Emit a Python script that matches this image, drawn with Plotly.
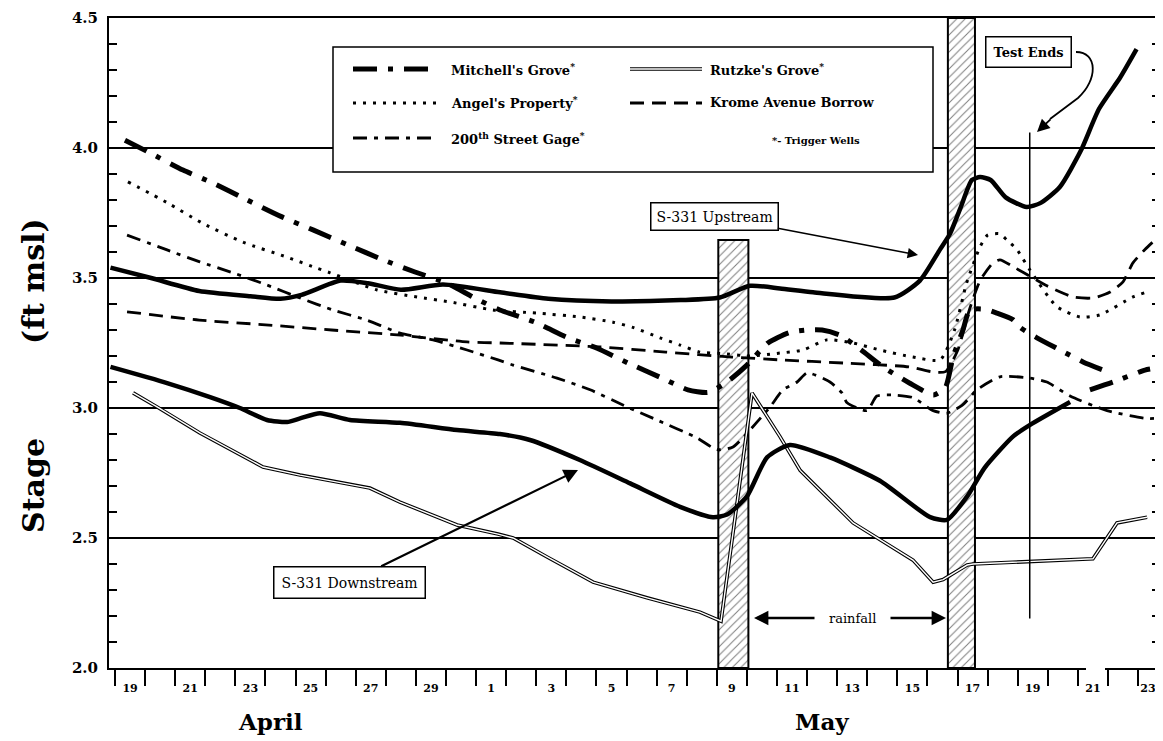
import plotly.graph_objects as go

# ---------------- data (day numbers: Apr 19 = 19 ... Apr 30 = 30, May 1 = 31 ... May 23 = 53) -------------
upstream_day = [18.85, 20.2, 21.8, 23.5, 24.5, 25.2, 26.5, 27.4, 28.5, 29.9, 31.8, 33.4, 35.5, 37.8, 39.1,
                40.1, 41.1, 42.2, 44.9, 45.75, 46.42, 46.75, 47.1, 47.48, 47.75, 48.1, 48.6, 49.3, 49.75,
                50.4, 51.1, 51.7, 52.4, 52.95]
upstream_stage = [3.54, 3.50, 3.45, 3.43, 3.42, 3.435, 3.49, 3.48, 3.455, 3.475, 3.445, 3.42, 3.41, 3.415,
                  3.425, 3.47, 3.46, 3.445, 3.425, 3.49, 3.61, 3.67, 3.77, 3.877, 3.888, 3.877, 3.81, 3.773,
                  3.788, 3.85, 3.99, 4.15, 4.27, 4.38]

downstream_day = [18.85, 20.73, 22.16, 23.15, 24.05, 24.72, 25.15, 25.81, 26.81, 28.47, 30.37, 31.79, 32.79,
                  34.45, 36.12, 37.78, 38.87, 39.34, 40.0, 40.67, 41.43, 42.76, 44.42, 46.09, 46.65, 47.32,
                  47.9, 48.84, 49.41, 50.74]
downstream_stage = [3.158, 3.096, 3.042, 3.0, 2.954, 2.946, 2.96, 2.98, 2.954, 2.943, 2.915, 2.90, 2.877,
                    2.80, 2.71, 2.62, 2.58, 2.59, 2.66, 2.81, 2.858, 2.81, 2.72, 2.58, 2.57, 2.66, 2.77,
                    2.89, 2.935, 3.023]

rutzke_day = [19.6, 20.4, 21.82, 23.92, 25.15, 27.47, 28.47, 30.37, 31.73, 32.23, 33.36, 34.89, 36.68,
              38.44, 39.14, 40.17, 41.1, 41.77, 43.53, 45.52, 46.19, 46.52, 47.32, 47.52, 51.5, 52.3, 53.3]
rutzke_stage = [3.058, 3.004, 2.904, 2.773, 2.742, 2.692, 2.638, 2.55, 2.515, 2.50, 2.427, 2.33, 2.27,
                2.215, 2.18, 3.058, 2.89, 2.76, 2.558, 2.415, 2.33, 2.34, 2.396, 2.40, 2.42, 2.558, 2.58]

mitchell_day = [19.33, 20.1, 21.26, 22.26, 23.39, 24.55, 25.58, 26.74, 27.91, 28.97, 30.03, 30.96, 31.79,
                32.96, 34.06, 35.02, 36.05, 37.18, 38.04, 38.71, 39.34, 40.0, 40.7, 41.4, 42.0, 42.5, 43.1,
                43.8, 44.5, 45.4, 46.2, 46.6, 46.85, 47.18, 47.41, 47.9, 48.31, 48.84, 49.08, 49.64, 50.41,
                51.17, 51.83, None, 51.4, 52.17, 53.23, 53.4]
mitchell_stage = [4.03, 3.985, 3.915, 3.865, 3.80, 3.735, 3.685, 3.627, 3.57, 3.523, 3.48, 3.423, 3.377,
                  3.33, 3.27, 3.23, 3.173, 3.115, 3.07, 3.06, 3.10, 3.165, 3.25, 3.29, 3.30, 3.30, 3.28,
                  3.223, 3.16, 3.096, 3.05, 3.08, 3.196, 3.30, 3.377, 3.38, 3.365, 3.34, 3.31, 3.27, 3.223,
                  3.177, 3.146, None, 3.07, 3.10, 3.146, 3.15]

angel_day = [19.43, 20.73, 21.92, 23.25, 24.72, 25.71, 26.15, 27.71, 29.04, 30.13, 31.56, 33.02, 34.45,
             35.55, 36.21, 37.11, 37.78, 38.44, 39.11, 40.1, 41.0, 41.86, 42.66, 43.53, 44.42, 45.52,
             46.42, 46.9, 47.3, 47.75, 48.0, 48.4, 48.64, 48.97, 49.41, 50.3, 51.07, 51.73, 52.83, 53.4]
angel_stage = [3.87, 3.79, 3.71, 3.638, 3.58, 3.538, 3.52, 3.454, 3.427, 3.408, 3.377, 3.365, 3.35, 3.33,
               3.31, 3.27, 3.242, 3.215, 3.21, 3.20, 3.21, 3.223, 3.262, 3.25, 3.223, 3.196, 3.185, 3.30,
               3.48, 3.62, 3.665, 3.67, 3.646, 3.61, 3.53, 3.39, 3.35, 3.358, 3.427, 3.45]

gage_day = [19.4, 20.73, 21.82, 22.92, 24.05, 25.15, 26.24, 27.37, 28.47, 29.57, 30.70, 31.73, 32.23,
            33.69, 34.79, 36.02, 37.01, 38.34, 39.0, 39.54, 40.1, 40.77, 41.2, 41.67, 42.0, 42.76, 43.16,
            43.33, 43.99, 44.32, 44.86, 45.52, 46.19, 46.65, 47.15, 47.65, 48.41, 49.41, 49.97, 50.74,
            51.97, 53.23, 53.6]
gage_stage = [3.665, 3.608, 3.562, 3.52, 3.473, 3.423, 3.377, 3.338, 3.288, 3.262, 3.223, 3.185, 3.165,
              3.115, 3.07, 3.004, 2.954, 2.885, 2.84, 2.85, 2.915, 3.004, 3.07, 3.10, 3.135, 3.10, 3.058,
              3.02, 2.99, 3.046, 3.05, 3.04, 2.99, 2.98, 3.01, 3.07, 3.12, 3.115, 3.10, 3.046, 2.99,
              2.96, 2.96]

krome_day = [19.4, 21.8, 24.0, 26.2, 28.5, 30.7, 31.8, 35.1, 37.3, 39.5, 41.1, 43.2, 45.4, 46.2, 46.6,
             47.0, 47.4, 47.75, 48.18, 48.41, 48.9, 49.51, 49.97, 50.84, 51.5, 52.07, 52.5, 52.83, 53.23,
             53.6]
krome_stage = [3.37, 3.338, 3.32, 3.30, 3.28, 3.254, 3.25, 3.235, 3.215, 3.196, 3.185, 3.173, 3.158,
               3.138, 3.14, 3.22, 3.38, 3.49, 3.558, 3.57, 3.54, 3.50, 3.47, 3.427, 3.423, 3.446, 3.485,
               3.558, 3.61, 3.65]

rain_start = [39.05, 46.68]
rain_end = [40.05, 47.58]
rain_top = [3.646, 4.5]
test_end_day = 49.4
test_end_range = [2.19, 4.06]

# tick-label positions (day centres; the last one sits a little left, as printed)
x_label_pos = [19.5, 21.5, 23.5, 25.5, 27.5, 29.5, 31.5, 33.5, 35.5, 37.5, 39.5, 41.5, 43.5, 45.5,
               47.5, 49.5, 51.5, 53.33]
x_tick_labels = ["19", "21", "23", "25", "27", "29", "1", "3", "5", "7", "9", "11", "13", "15", "17",
                 "19", "21", "23"]
month_labels = ["April", "May"]

series_names = ["Mitchell's Grove", "Angel's Property", "200th Street Gage",
                "Rutzke's Grove", "Krome Avenue Borrow", "S-331 Upstream", "S-331 Downstream"]

# ---------------- geometry helpers (layout only) ----------------
# the page body has an 8 px margin, so the figure is made 8 px smaller and all
# screen positions below are given in the 1163x741 screenshot frame.
OFF = 8
W, H = 1163 - OFF, 741 - OFF
PLOT_L, PLOT_R, PLOT_T, PLOT_B = 109, 1160, 18, 668          # screenshot pixels
ML, MT = PLOT_L - OFF, PLOT_T - OFF
MR = W - (PLOT_R - OFF)
MB = H - (PLOT_B - OFF)
PX_PER_DAY = 30.09
X0 = 19 - (115 - PLOT_L) / PX_PER_DAY
X1 = X0 + (PLOT_R - PLOT_L) / PX_PER_DAY
Y0, Y1 = 2.0, 4.5
PLOT_W = PLOT_R - PLOT_L
PLOT_H = PLOT_B - PLOT_T


def px2x(px):
    return X0 + (px - PLOT_L) / PX_PER_DAY


def py2y(py):
    return Y1 - (py - PLOT_T) * (Y1 - Y0) / PLOT_H


def px2p(px):
    return (px - PLOT_L) / PLOT_W


def py2p(py):
    return (PLOT_B - py) / PLOT_H


SERIF = "DejaVu Serif"
MITCH_DASH = "24px,11px,5px,11px"
ANGEL_DASH = "3px,7px"
GAGE_DASH = "14px,7px,4px,7px"
KROME_DASH = "14px,8px"

fig = go.Figure()

# rainfall bars (hatched)
fig.add_trace(go.Bar(
    x=[(s + e) / 2 for s, e in zip(rain_start, rain_end)],
    width=[e - s for s, e in zip(rain_start, rain_end)],
    y=[t - Y0 for t in rain_top], base=Y0,
    marker=dict(color="white", line=dict(color="black", width=2),
                pattern=dict(shape="/", fgcolor="black", bgcolor="white", size=6, solidity=0.17)),
    showlegend=False, hoverinfo="skip", name="rainfall"))

fig.add_trace(go.Scatter(x=krome_day, y=krome_stage, mode="lines", name=series_names[4],
                         line=dict(color="black", width=2.8, dash=KROME_DASH, shape="spline", smoothing=0.6)))
fig.add_trace(go.Scatter(x=gage_day, y=gage_stage, mode="lines", name=series_names[2],
                         line=dict(color="black", width=2.8, dash=GAGE_DASH, shape="spline", smoothing=0.6)))
fig.add_trace(go.Scatter(x=angel_day, y=angel_stage, mode="lines", name=series_names[1],
                         line=dict(color="black", width=3, dash=ANGEL_DASH, shape="spline", smoothing=0.6)))
fig.add_trace(go.Scatter(x=mitchell_day, y=mitchell_stage, mode="lines", name=series_names[0],
                         line=dict(color="black", width=5, dash=MITCH_DASH, shape="spline", smoothing=0.6)))
fig.add_trace(go.Scatter(x=rutzke_day, y=rutzke_stage, mode="lines", name=series_names[3],
                         line=dict(color="black", width=3.6)))
fig.add_trace(go.Scatter(x=rutzke_day, y=rutzke_stage, mode="lines", showlegend=False,
                         line=dict(color="white", width=1.4), hoverinfo="skip"))
fig.add_trace(go.Scatter(x=upstream_day, y=upstream_stage, mode="lines", name=series_names[5],
                         line=dict(color="black", width=4.5, shape="spline", smoothing=0.6)))
fig.add_trace(go.Scatter(x=downstream_day, y=downstream_stage, mode="lines", name=series_names[6],
                         line=dict(color="black", width=4.5, shape="spline", smoothing=0.6)))

shapes = []
annotations = []

# test-ends vertical line
shapes.append(dict(type="line", xref="x", yref="y", x0=test_end_day, x1=test_end_day,
                   y0=test_end_range[0], y1=test_end_range[1], line=dict(color="black", width=1.5)))

# small break in the bottom axis line (as in the original drawing)
shapes.append(dict(type="rect", xref="paper", yref="paper", x0=px2p(1086), x1=px2p(1105),
                   y0=py2p(672), y1=py2p(665), line=dict(width=0), fillcolor="white", layer="above"))

# ---------------- legend (drawn box) ----------------
shapes.append(dict(type="rect", xref="paper", yref="paper", x0=px2p(333), x1=px2p(933),
                   y0=py2p(172), y1=py2p(47), line=dict(color="black", width=1.5),
                   fillcolor="white", layer="above"))
leg_rows = [69, 103, 138]
leg_items = [
    (0, 0, "Mitchell's Grove<sup>*</sup>", dict(color="black", width=5, dash=MITCH_DASH)),
    (0, 1, "Angel's Property<sup>*</sup>", dict(color="black", width=3, dash=ANGEL_DASH)),
    (0, 2, "200<sup>th</sup> Street Gage<sup>*</sup>", dict(color="black", width=3, dash=GAGE_DASH)),
    (1, 0, "Rutzke's Grove<sup>*</sup>", None),
    (1, 1, "Krome Avenue Borrow", dict(color="black", width=3, dash=KROME_DASH)),
]
col_sample = [(353, 436), (630, 702)]
col_text = [449, 708]
for col, row, label, ln in leg_items:
    yy = py2p(leg_rows[row])
    xa, xb = col_sample[col]
    if ln is None:
        shapes.append(dict(type="line", xref="paper", yref="paper", x0=px2p(xa), x1=px2p(xb), y0=yy, y1=yy,
                           line=dict(color="black", width=3.6), layer="above"))
        shapes.append(dict(type="line", xref="paper", yref="paper", x0=px2p(xa), x1=px2p(xb), y0=yy, y1=yy,
                           line=dict(color="white", width=1.4), layer="above"))
    else:
        shapes.append(dict(type="line", xref="paper", yref="paper", x0=px2p(xa), x1=px2p(xb), y0=yy, y1=yy,
                           line=ln, layer="above"))
    annotations.append(dict(xref="paper", yref="paper", x=px2p(col_text[col]), y=yy, xanchor="left",
                            yanchor="middle", showarrow=False, text=label,
                            font=dict(family=SERIF, size=13, color="black", weight="bold")))
annotations.append(dict(xref="paper", yref="paper", x=px2p(770), y=py2p(140), xanchor="left",
                        yanchor="middle", showarrow=False, text="<b>*</b>- Trigger Wells",
                        font=dict(family=SERIF, size=10, color="black", weight="bold")))

# ---------------- text annotations ----------------
annotations.append(dict(xref="paper", yref="paper", x=px2p(33), y=py2p(376), textangle=-90,
                        xanchor="center", yanchor="middle",
                        showarrow=False, text="Stage" + "\u00a0" * 9 + "(ft msl)",
                        font=dict(family=SERIF, size=30, color="black", weight="bold")))
annotations.append(dict(xref="paper", yref="paper", x=px2p(270), y=py2p(721), showarrow=False,
                        xanchor="center", yanchor="middle",
                        text=month_labels[0], font=dict(family=SERIF, size=23, color="black", weight="bold")))
annotations.append(dict(xref="paper", yref="paper", x=px2p(822), y=py2p(721), showarrow=False,
                        xanchor="center", yanchor="middle",
                        text=month_labels[1], font=dict(family=SERIF, size=23, color="black", weight="bold")))

box_font = dict(family=SERIF, size=14, color="black")
# S-331 Upstream
tip = (918, 255)
ctr = (714, 216)
annotations.append(dict(xref="x", yref="y", x=px2x(tip[0]), y=py2y(tip[1]), ax=ctr[0] - tip[0],
                        ay=ctr[1] - tip[1], text="S-331 Upstream", showarrow=True, arrowhead=2,
                        arrowsize=1.3, arrowwidth=1.6, arrowcolor="black", bordercolor="black",
                        borderwidth=1.5, borderpad=5, bgcolor="white", font=box_font))
# S-331 Downstream
tip = (578, 470)
ctr = (349, 582)
annotations.append(dict(xref="x", yref="y", x=px2x(tip[0]), y=py2y(tip[1]), ax=ctr[0] - tip[0],
                        ay=ctr[1] - tip[1], text="S-331 Downstream", showarrow=True, arrowhead=2,
                        arrowsize=1.3, arrowwidth=2.2, arrowcolor="black", bordercolor="black",
                        borderwidth=1.5, borderpad=7, bgcolor="white", font=box_font))
# Test Ends
annotations.append(dict(xref="paper", yref="paper", x=px2p(1028), y=py2p(52), showarrow=False,
                        xanchor="center", yanchor="middle",
                        text="<b>Test Ends</b>", bordercolor="black", borderwidth=1.5, borderpad=7,
                        bgcolor="white", font=dict(family=SERIF, size=13, color="black")))
shapes.append(dict(type="path", xref="x", yref="y",
                   path=("M {a},{b} C {c},{d} {e},{f} {g},{h} L {i},{j}".format(
                       a=px2x(1076), b=py2y(52), c=px2x(1098), d=py2y(52), e=px2x(1098), f=py2y(80),
                       g=px2x(1078), h=py2y(98), i=px2x(1050), j=py2y(119))),
                   line=dict(color="black", width=1.8)))
annotations.append(dict(xref="x", yref="y", x=px2x(1037), y=py2y(132), ax=15, ay=-14, text="",
                        showarrow=True, arrowhead=2, arrowsize=1.4, arrowwidth=1.8, arrowcolor="black"))
# rainfall
annotations.append(dict(xref="x", yref="y", x=px2x(852), y=py2y(618), showarrow=False, text="rainfall",
                        font=dict(family=SERIF, size=13, color="black")))
annotations.append(dict(xref="x", yref="y", x=px2x(754), y=py2y(618), ax=62, ay=0, text="",
                        showarrow=True, arrowhead=2, arrowsize=1.2, arrowwidth=2.4, arrowcolor="black"))
annotations.append(dict(xref="x", yref="y", x=px2x(946), y=py2y(618), ax=-57, ay=0, text="",
                        showarrow=True, arrowhead=2, arrowsize=1.2, arrowwidth=2.4, arrowcolor="black"))

fig.update_layout(
    width=W, height=H, margin=dict(l=ML, r=MR, t=MT, b=MB, autoexpand=False),
    paper_bgcolor="white", plot_bgcolor="white", showlegend=False,
    font=dict(family=SERIF, color="black"),
    xaxis=dict(range=[X0, X1], tickmode="array", tickvals=x_label_pos,
               ticktext=x_tick_labels, ticks="", showgrid=False, zeroline=False, automargin=False,
               showline=True, linecolor="black", linewidth=2, mirror=True,
               tickfont=dict(family=SERIF, size=11, color="black", weight="bold"),
               ticklabelstandoff=9,
               minor=dict(tickmode="linear", tick0=19, dtick=1, ticks="outside", ticklen=16,
                          tickwidth=1.5, tickcolor="black", showgrid=False)),
    yaxis=dict(range=[Y0, Y1], tickmode="linear", tick0=2.0, dtick=0.5, tickformat=".1f",
               ticks="inside", ticklen=8, tickwidth=1.5, tickcolor="black", automargin=False,
               showgrid=True, gridcolor="black", gridwidth=1.5, zeroline=False,
               showline=True, linecolor="black", linewidth=2, mirror="ticks",
               tickfont=dict(family=SERIF, size=15, color="black", weight="bold"),
               ticklabelstandoff=6,
               minor=dict(dtick=0.1, ticks="inside", ticklen=8, tickwidth=1.5, tickcolor="black",
                          showgrid=False)),
    shapes=shapes, annotations=annotations,
)

fig.write_html("out.html")
